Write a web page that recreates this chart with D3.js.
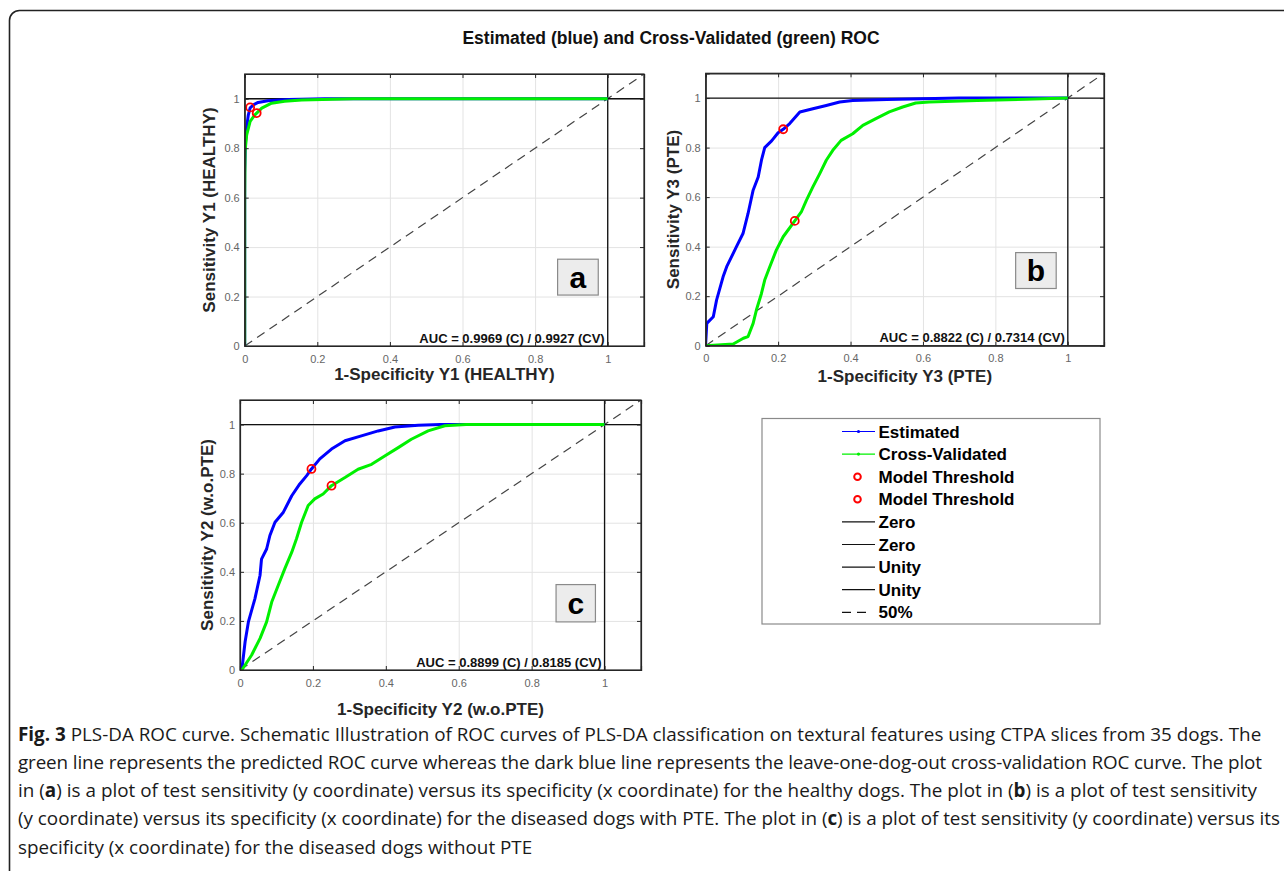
<!DOCTYPE html>
<html>
<head>
<meta charset="utf-8">
<script src="https://cdn.jsdelivr.net/npm/d3@7"></script>
<style>
  html, body { margin: 0; padding: 0; background: #fff; }
  svg { display: block; }
</style>
</head>
<body>
<svg id="chart" width="1284" height="871"></svg>
<script>
// ---------------- DATA ----------------
const tickValues = [0, 0.2, 0.4, 0.6, 0.8, 1];
const tickLabels = ["0", "0.2", "0.4", "0.6", "0.8", "1"];

// Panel a (HEALTHY)
const rocA_est = [[0,0],[0,0.70],[0.002,0.82],[0.0055,0.885],[0.01,0.935],[0.015,0.963],[0.025,0.976],[0.037,0.985],[0.064,0.992],[0.12,0.997],[0.22,1],[1,1]];
const rocA_cv  = [[0,0],[0,0.60],[0.001,0.787],[0.0055,0.854],[0.015,0.908],[0.028,0.935],[0.033,0.942],[0.047,0.962],[0.074,0.982],[0.11,0.99],[0.157,0.995],[0.3,1],[1,1]];
const thrA = [[0.015,0.965],[0.033,0.942]];
const aucA = "AUC = 0.9969 (C) / 0.9927 (CV)";

// Panel b (PTE)
const rocB_est = [[0,0],[0,0.01],[0.003,0.09],[0.021,0.117],[0.03,0.184],[0.048,0.278],[0.058,0.319],[0.085,0.40],[0.103,0.453],[0.117,0.534],[0.131,0.628],[0.145,0.681],[0.154,0.749],[0.163,0.80],[0.182,0.827],[0.20,0.86],[0.214,0.874],[0.232,0.897],[0.26,0.944],[0.296,0.957],[0.333,0.97],[0.37,0.984],[0.406,0.99],[0.5,0.994],[0.6,0.997],[0.7,1],[1,1]];
const rocB_cv  = [[0,0],[0.076,0.007],[0.104,0.03],[0.117,0.037],[0.131,0.09],[0.14,0.144],[0.154,0.211],[0.163,0.265],[0.177,0.319],[0.195,0.386],[0.214,0.44],[0.246,0.504],[0.264,0.54],[0.278,0.587],[0.296,0.641],[0.315,0.695],[0.333,0.749],[0.351,0.789],[0.374,0.829],[0.406,0.856],[0.434,0.89],[0.47,0.917],[0.507,0.944],[0.544,0.964],[0.58,0.98],[0.617,0.984],[0.75,0.99],[0.884,0.995],[1,1]];
const thrB = [[0.214,0.874],[0.246,0.504]];
const aucB = "AUC = 0.8822 (C) / 0.7314 (CV)";

// Panel c (w.o.PTE)
const rocC_est = [[0,0],[0.005,0],[0.014,0.115],[0.023,0.196],[0.041,0.291],[0.055,0.386],[0.059,0.452],[0.073,0.493],[0.082,0.548],[0.096,0.602],[0.119,0.643],[0.142,0.71],[0.164,0.758],[0.183,0.792],[0.196,0.819],[0.219,0.86],[0.251,0.90],[0.288,0.934],[0.333,0.954],[0.379,0.974],[0.425,0.99],[0.489,0.997],[0.55,1],[1,1]];
const rocC_cv  = [[0,0],[0.005,0],[0.032,0.061],[0.055,0.129],[0.073,0.196],[0.087,0.277],[0.105,0.345],[0.123,0.413],[0.142,0.48],[0.155,0.535],[0.169,0.602],[0.187,0.67],[0.205,0.697],[0.228,0.717],[0.251,0.751],[0.288,0.784],[0.324,0.818],[0.361,0.838],[0.397,0.872],[0.434,0.906],[0.47,0.94],[0.516,0.974],[0.562,0.995],[0.62,1],[1,1]];
const thrC = [[0.196,0.819],[0.251,0.751]];
const aucC = "AUC = 0.8899 (C) / 0.8185 (CV)";

const legendLabels = ["Estimated","Cross-Validated","Model Threshold","Model Threshold","Zero","Zero","Unity","Unity","50%"];
const legendKinds  = ["blue","green","thr","thr","line","line","line","line","dash"];

const titleText = "Estimated (blue) and Cross-Validated (green) ROC";

// ---------------- LAYOUT ----------------
const panels = [
  { est: rocA_est, cv: rocA_cv, thr: thrA, auc: aucA, letter: "a",
    xl: "1-Specificity Y1 (HEALTHY)", yl: "Sensitivity Y1 (HEALTHY)",
    box: {l:244.7, r:644, t:74, b:346}, xlOff: 34, ylX: 209,
    lbox: {x0:0.862, x1:0.974, y0:0.206, y1:0.351} },
  { est: rocB_est, cv: rocB_cv, thr: thrB, auc: aucB, letter: "b",
    xl: "1-Specificity Y3 (PTE)", yl: "Sensitivity Y3 (PTE)",
    box: {l:705.7, r:1104, t:73.3, b:345.7}, xlOff: 36, ylX: 673,
    lbox: {x0:0.856, x1:0.968, y0:0.231, y1:0.376} },
  { est: rocC_est, cv: rocC_cv, thr: thrC, auc: aucC, letter: "c",
    xl: "1-Specificity Y2 (w.o.PTE)", yl: "Sensitivity Y2 (w.o.PTE)",
    box: {l:240, r:641, t:400, b:670}, xlOff: 45, ylX: 207,
    lbox: {x0:0.867, x1:0.975, y0:0.196, y1:0.348} }
];

const svg = d3.select("#chart");
const FONT = "'Liberation Sans', Arial, Helvetica, sans-serif";
const GREEN = "#00f000", BLUE = "#0000ff";

// outer frame (open on right/bottom)
svg.append("rect")
  .attr("x", 9.5).attr("y", 10.5).attr("width", 1320).attr("height", 870)
  .attr("rx", 10).attr("ry", 10)
  .attr("fill", "none").attr("stroke", "#222").attr("stroke-width", 1.6);

// title
svg.append("text")
  .attr("x", 671).attr("y", 44)
  .attr("text-anchor", "middle")
  .attr("font-family", FONT).attr("font-weight", "bold").attr("font-size", 17.5)
  .attr("fill", "#111")
  .text(titleText);

panels.forEach((p, i) => {
  const W = p.box.r - p.box.l, H = p.box.b - p.box.t;
  const x = d3.scaleLinear().domain([0, 1.1]).range([0, W]);
  const y = d3.scaleLinear().domain([0, 1.1]).range([H, 0]);
  const g = svg.append("g").attr("transform", `translate(${p.box.l},${p.box.t})`);

  const clipId = "clip" + i;
  g.append("clipPath").attr("id", clipId).append("rect")
    .attr("x", 0).attr("y", 0).attr("width", W).attr("height", H);

  // grid
  const gx = g.append("g").attr("transform", `translate(0,${H})`)
    .call(d3.axisBottom(x).tickValues(tickValues).tickSize(-H).tickFormat(""));
  gx.select(".domain").remove();
  gx.selectAll("line").attr("stroke", "#e3e3e3").attr("stroke-width", 1);
  const gy = g.append("g")
    .call(d3.axisLeft(y).tickValues(tickValues).tickSize(-W).tickFormat(""));
  gy.select(".domain").remove();
  gy.selectAll("line").attr("stroke", "#e3e3e3").attr("stroke-width", 1);

  const plot = g.append("g").attr("clip-path", `url(#${clipId})`);

  // 50% diagonal
  plot.append("line")
    .attr("x1", x(0)).attr("y1", y(0)).attr("x2", x(1.1)).attr("y2", y(1.1))
    .attr("stroke", "#444").attr("stroke-width", 1.2).attr("stroke-dasharray", "9,6");

  // Zero / Unity lines
  plot.append("line").attr("x1", x(0)).attr("x2", x(1.1)).attr("y1", y(1)).attr("y2", y(1))
    .attr("stroke", "#111").attr("stroke-width", 1.3);
  plot.append("line").attr("x1", x(1)).attr("x2", x(1)).attr("y1", y(0)).attr("y2", y(1.1))
    .attr("stroke", "#111").attr("stroke-width", 1.3);

  const line = d3.line().x(d => x(d[0])).y(d => y(d[1]));
  plot.append("path").datum(p.est).attr("d", line)
    .attr("fill", "none").attr("stroke", BLUE).attr("stroke-width", 3).attr("stroke-linejoin", "round");
  plot.append("path").datum(p.cv).attr("d", line)
    .attr("fill", "none").attr("stroke", GREEN).attr("stroke-width", 3).attr("stroke-linejoin", "round");

  plot.selectAll("circle.thr").data(p.thr).join("circle").attr("class", "thr")
    .attr("cx", d => x(d[0])).attr("cy", d => y(d[1])).attr("r", 4)
    .attr("fill", "none").attr("stroke", "#ff0000").attr("stroke-width", 1.8);

  // axes with inward ticks
  const ax = g.append("g").attr("transform", `translate(0,${H})`)
    .call(d3.axisBottom(x).tickValues(tickValues).tickFormat((d, k) => tickLabels[k]).tickSize(-4).tickPadding(9));
  const ay = g.append("g")
    .call(d3.axisLeft(y).tickValues(tickValues).tickFormat((d, k) => tickLabels[k]).tickSize(-4).tickPadding(5));
  const axT = g.append("g")
    .call(d3.axisTop(x).tickValues(tickValues).tickFormat("").tickSize(-4));
  const ayR = g.append("g").attr("transform", `translate(${W},0)`)
    .call(d3.axisRight(y).tickValues(tickValues).tickFormat("").tickSize(-4));
  [ax, ay, axT, ayR].forEach(a => {
    a.selectAll(".domain").attr("stroke", "#262626").attr("stroke-width", 1.2);
    a.selectAll(".tick line").attr("stroke", "#262626");
    a.selectAll("text").attr("font-family", FONT).attr("font-size", 11).attr("fill", "#666");
  });
  // full box
  g.append("rect").attr("x", 0).attr("y", 0).attr("width", W).attr("height", H)
    .attr("fill", "none").attr("stroke", "#262626").attr("stroke-width", 1.2);

  // AUC text
  g.append("text").attr("x", x(1) - 3).attr("y", H - 3.5)
    .attr("text-anchor", "end").attr("font-family", FONT).attr("font-weight", "bold")
    .attr("font-size", 13).attr("fill", "#111").text(p.auc);

  // letter box
  const lb = p.lbox;
  g.append("rect")
    .attr("x", x(lb.x0)).attr("y", y(lb.y1))
    .attr("width", x(lb.x1) - x(lb.x0)).attr("height", y(lb.y0) - y(lb.y1))
    .attr("fill", "#ececec").attr("stroke", "#8a8a8a").attr("stroke-width", 1.2);
  g.append("text")
    .attr("x", (x(lb.x0) + x(lb.x1)) / 2).attr("y", (y(lb.y0) + y(lb.y1)) / 2)
    .attr("dy", "0.36em")
    .attr("text-anchor", "middle").attr("font-family", FONT).attr("font-weight", "bold")
    .attr("font-size", 30).attr("fill", "#000").text(p.letter);

  // axis labels
  g.append("text").attr("x", W / 2).attr("y", H + p.xlOff)
    .attr("text-anchor", "middle").attr("font-family", FONT).attr("font-weight", "bold")
    .attr("font-size", 17).attr("fill", "#262626").text(p.xl);
  svg.append("text")
    .attr("transform", `translate(${p.ylX + 6},${p.box.t + H / 2}) rotate(-90)`)
    .attr("text-anchor", "middle").attr("font-family", FONT).attr("font-weight", "bold")
    .attr("font-size", 17).attr("fill", "#262626").text(p.yl);
});

// ---------------- LEGEND ----------------
const leg = svg.append("g");
leg.append("rect").attr("x", 762).attr("y", 418.5).attr("width", 338).attr("height", 205.5)
  .attr("fill", "#fff").attr("stroke", "#8a8a8a").attr("stroke-width", 1.2);
const rowY = d3.scaleLinear().domain([0, legendLabels.length - 1]).range([431.5, 612.3]);
legendLabels.forEach((lab, k) => {
  const yy = rowY(k);
  const kind = legendKinds[k];
  if (kind === "blue" || kind === "green") {
    const c = kind === "blue" ? BLUE : GREEN;
    leg.append("line").attr("x1", 842).attr("x2", 875).attr("y1", yy).attr("y2", yy)
      .attr("stroke", c).attr("stroke-width", 1.2);
    leg.append("circle").attr("cx", 858.5).attr("cy", yy).attr("r", 1.6).attr("fill", c);
  } else if (kind === "thr") {
    leg.append("circle").attr("cx", 857.5).attr("cy", yy).attr("r", 3.3)
      .attr("fill", "none").attr("stroke", "#ff0000").attr("stroke-width", 2);
  } else if (kind === "line") {
    leg.append("line").attr("x1", 842).attr("x2", 875).attr("y1", yy).attr("y2", yy)
      .attr("stroke", "#111").attr("stroke-width", 1.2);
  } else {
    leg.append("line").attr("x1", 842).attr("x2", 866).attr("y1", yy).attr("y2", yy)
      .attr("stroke", "#111").attr("stroke-width", 1.2).attr("stroke-dasharray", "9,6");
  }
  leg.append("text").attr("x", 878.5).attr("y", yy).attr("dy", "0.36em")
    .attr("font-family", FONT).attr("font-weight", "bold").attr("font-size", 17)
    .attr("fill", "#000").text(lab);
});

// ---------------- CAPTION ----------------
const captionLines = [
  [["Fig. 3", true], [" PLS-DA ROC curve. Schematic Illustration of ROC curves of PLS-DA classification on textural features using CTPA slices from 35 dogs. The", false]],
  [["green line represents the predicted ROC curve whereas the dark blue line represents the leave-one-dog-out cross-validation ROC curve. The plot", false]],
  [["in (", false], ["a", true], [") is a plot of test sensitivity (y coordinate) versus its specificity (x coordinate) for the healthy dogs. The plot in (", false], ["b", true], [") is a plot of test sensitivity", false]],
  [["(y coordinate) versus its specificity (x coordinate) for the diseased dogs with PTE. The plot in (", false], ["c", true], [") is a plot of test sensitivity (y coordinate) versus its", false]],
  [["specificity (x coordinate) for the diseased dogs without PTE", false]]
];
const captionWidths = [1244, 1244, 1239, 1262, null];
const cap = svg.append("g").attr("font-family", "'Open Sans', sans-serif").attr("font-size", 16).attr("fill", "#1a1a1a");
const capRows = captionLines.map((segs, k) => {
  const t = cap.append("text").attr("x", 18).attr("y", 740.5 + k * 28.25);
  segs.forEach(s => {
    t.append("tspan").attr("font-weight", s[1] ? "bold" : "normal").text(s[0]);
  });
  return t;
});
// fit font size so first line spans the reference width
const w0 = capRows[0].node().getComputedTextLength();
if (w0 > 0) cap.attr("font-size", 16 * 1244 / w0);
// justify remaining full lines to their measured widths
capRows.forEach((t, k) => {
  if (k > 0 && captionWidths[k]) {
    t.attr("textLength", captionWidths[k]).attr("lengthAdjust", "spacing");
  }
});
</script>
</body>
</html>
